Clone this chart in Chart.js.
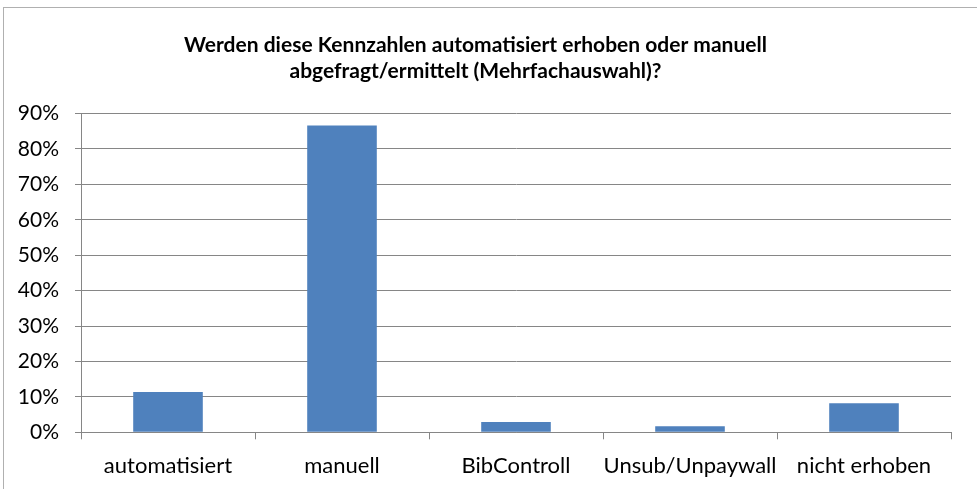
<!DOCTYPE html>
<html>
<head>
<meta charset="utf-8">
<script src="https://cdn.jsdelivr.net/npm/chart.js@4"></script>
<style>
html,body{margin:0;padding:0;background:#fff;}
#wrap{position:relative;width:977px;height:489px;}
</style>
</head>
<body>
<div id="wrap"><canvas id="c" width="977" height="489"></canvas></div>
<script>
const titleLines = ["Werden diese Kennzahlen automatisiert erhoben oder manuell", "abgefragt/ermittelt (Mehrfachauswahl)?"];
const categories = ["automatisiert", "manuell", "BibControll", "Unsub/Unpaywall", "nicht erhoben"];
const values = [11.4, 86.6, 2.9, 1.7, 8.2];
const yTickMax = 90;
const yTickStep = 10;

const borderPlugin = {
  id: 'outerBorder',
  afterDraw(chart) {
    const ctx = chart.ctx;
    ctx.save();
    ctx.strokeStyle = '#b0b0b0';
    ctx.lineWidth = 1;
    ctx.strokeRect(3.5, 7.5, 1000, 1000);
    ctx.restore();
  }
};

new Chart(document.getElementById('c'), {
  type: 'bar',
  data: {
    labels: categories,
    datasets: [{
      data: values,
      backgroundColor: '#4F81BD',
      borderWidth: 0,
      barPercentage: 0.4,
      categoryPercentage: 1.0
    }]
  },
  options: {
    responsive: false,
    animation: false,
    layout: { padding: { left: 0, right: 26, top: 0, bottom: 0 } },
    plugins: {
      legend: { display: false },
      tooltip: { enabled: false },
      title: {
        display: true,
        text: titleLines,
        color: '#000',
        font: { family: 'Lato', size: 21, weight: 'bold', lineHeight: 1.25 },
        padding: { top: 32, bottom: 29 }
      }
    },
    scales: {
      x: {
        grid: { display: true, drawOnChartArea: false, drawTicks: true, tickLength: 7, color: '#868686', offset: true },
        border: { display: true, color: '#868686' },
        ticks: { color: '#000', font: { family: 'Lato', size: 22 }, padding: 13, maxRotation: 0, autoSkip: false },
        afterFit(s) { s.height = 489 - 432.3; }
      },
      y: {
        min: 0,
        max: yTickMax,
        grid: { color: '#868686', drawTicks: true, tickLength: 6 },
        border: { display: true, color: '#868686' },
        ticks: {
          stepSize: yTickStep,
          color: '#000',
          font: { family: 'Lato', size: 21 },
          padding: 16,
          callback: v => v + '%'
        },
        afterFit(s) { s.width = 81; }
      }
    }
  },
  plugins: [borderPlugin]
});
</script>
</body>
</html>
